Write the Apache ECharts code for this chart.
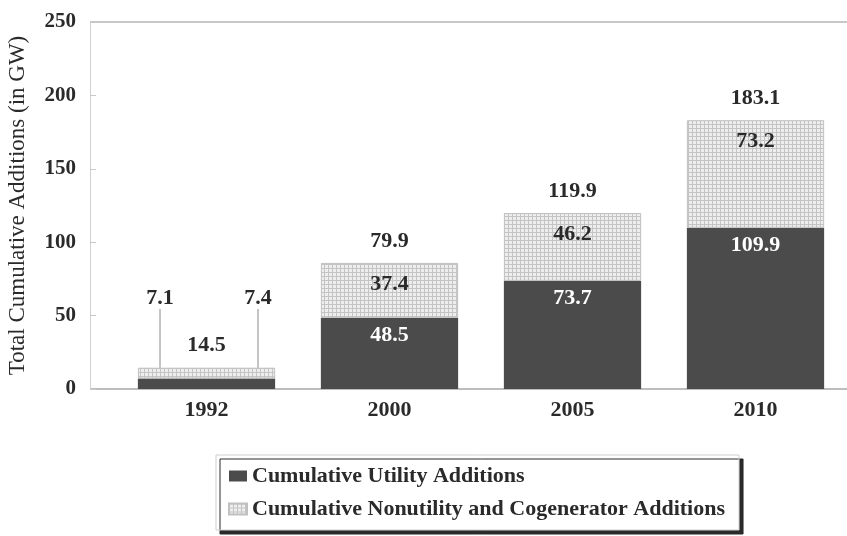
<!DOCTYPE html>
<html>
<head>
<meta charset="utf-8">
<script src="https://cdn.jsdelivr.net/npm/echarts@6/dist/echarts.min.js"></script>
<style>
  html, body { margin: 0; padding: 0; background: #fff; }
  #chart { width: 847px; height: 536px; }
</style>
</head>
<body>
<div id="chart"></div>
<script>
// Cumulative capacity additions, GW
const years = ['1992', '2000', '2005', '2010'];
const utility = [7.1, 48.5, 73.7, 109.9];
const nonutility = [7.4, 37.4, 46.2, 73.2];
const totals = ['14.5', '79.9', '119.9', '183.1'];
const yTicks = [0, 50, 100, 150, 200, 250];

const FONT = '"Liberation Serif", "DejaVu Serif", serif';
const DARK = '#4b4b4b';
const INK = '#2a2a2a';

// fine cross-hatch fill for the nonutility segments
function hatch() {
  const c = document.createElement('canvas');
  c.width = 4; c.height = 4;
  const g = c.getContext('2d');
  g.fillStyle = '#eeeeee';
  g.fillRect(0, 0, 4, 4);
  g.fillStyle = '#c4c4c4';
  g.fillRect(0, 0, 4, 1);
  g.fillRect(0, 0, 1, 4);
  return c;
}
const LIGHT = { image: hatch(), repeat: 'repeat' };

// the 1992 segments are too thin for inner labels: put them above with leader lines
const calloutPos = { 0: { x: 160, y: 298 }, 1: { x: 258, y: 298 } };

const chart = echarts.init(document.getElementById('chart'), null, { renderer: 'canvas' });

const option = {
  animation: false,
  backgroundColor: '#fff',
  grid: { left: 115, right: 0, top: 22, bottom: 147, containLabel: false, outerBoundsMode: 'none' },
  xAxis: {
    type: 'category',
    data: years,
    axisLine: { show: true, lineStyle: { color: '#bdbdbd', width: 2 } },
    axisTick: { show: false },
    axisLabel: { color: INK, fontFamily: FONT, fontWeight: 'bold', fontSize: 22, margin: 10 }
  },
  yAxis: {
    type: 'value',
    min: 0, max: 250, interval: 50,
    offset: 25,
    name: 'Total Cumulative Additions (in GW)',
    nameLocation: 'middle',
    nameGap: 61,
    nameRotate: 90,
    nameTextStyle: { color: INK, fontFamily: FONT, fontSize: 23 },
    axisLine: { show: true, lineStyle: { color: '#d0d0d0', width: 1 } },
    axisTick: { show: true, inside: true, length: 6, lineStyle: { color: '#c8c8c8' } },
    splitLine: { show: false },
    axisLabel: {
      color: INK, fontFamily: FONT, fontWeight: 'bold', fontSize: 21, margin: 14,
      formatter: v => (yTicks.indexOf(v) >= 0 ? String(v) : '')
    }
  },
  legend: {
    orient: 'vertical',
    left: 216,
    top: 455,
    itemWidth: 18,
    itemHeight: 11,
    itemGap: 11,
    padding: [10, 14, 10, 12],
    backgroundColor: '#fff',
    borderColor: '#cfcfcf',
    borderWidth: 1,
    shadowColor: '#2a2a2a',
    shadowBlur: 0,
    shadowOffsetX: 4,
    shadowOffsetY: 4,
    textStyle: { color: INK, fontFamily: FONT, fontWeight: 'bold', fontSize: 22 },
    data: [
      { name: 'Cumulative Utility Additions', icon: 'rect' },
      { name: 'Cumulative Nonutility and Cogenerator Additions', icon: 'rect' }
    ]
  },
  series: [
    {
      name: 'Cumulative Utility Additions',
      type: 'bar',
      stack: 'total',
      barWidth: '75%',
      data: utility.map((v, i) => (i === 0 ? { value: v, label: { color: INK } } : v)),
      itemStyle: { color: DARK },
      label: {
        show: true,
        position: 'insideTop',
        distance: 7,
        color: '#fff',
        fontFamily: FONT, fontWeight: 'bold', fontSize: 22,
        formatter: p => String(p.value)
      },
      labelLine: { show: true, lineStyle: { color: '#8a8a8a', width: 1 } },
      labelLayout: p => (p.dataIndex === 0 ? Object.assign({ align: 'center', verticalAlign: 'middle' }, calloutPos[0]) : {})
    },
    {
      name: 'Cumulative Nonutility and Cogenerator Additions',
      type: 'bar',
      stack: 'total',
      barWidth: '75%',
      data: nonutility,
      itemStyle: { color: LIGHT, borderColor: '#c0c0c0', borderWidth: 1 },
      label: {
        show: true,
        position: 'insideTop',
        distance: 10,
        color: INK,
        fontFamily: FONT, fontWeight: 'bold', fontSize: 22,
        formatter: p => String(p.value)
      },
      labelLine: { show: true, lineStyle: { color: '#8a8a8a', width: 1 } },
      labelLayout: p => (p.dataIndex === 0 ? Object.assign({ align: 'center', verticalAlign: 'middle' }, calloutPos[1]) : {})
    },
    {
      // zero-height cap carrying the total labels
      name: 'total',
      type: 'bar',
      stack: 'total',
      barWidth: '75%',
      data: years.map(() => 0),
      itemStyle: { color: 'transparent' },
      label: {
        show: true,
        position: 'top',
        distance: 11,
        color: INK,
        fontFamily: FONT, fontWeight: 'bold', fontSize: 22,
        formatter: p => totals[p.dataIndex]
      },
      tooltip: { show: false }
    }
  ]
};

chart.setOption(option);

// extend the frame lines to the offset y-axis
const y0 = chart.convertToPixel({ yAxisIndex: 0 }, 0);
const yTop = chart.convertToPixel({ yAxisIndex: 0 }, 250);
chart.setOption({
  graphic: [
    { type: 'line', shape: { x1: 90, y1: yTop, x2: 847, y2: yTop }, style: { stroke: '#c8c8c8', lineWidth: 2 }, silent: true },
    { type: 'line', shape: { x1: 90, y1: y0, x2: 115, y2: y0 }, style: { stroke: '#bdbdbd', lineWidth: 2 }, silent: true }
  ]
});
</script>
</body>
</html>
